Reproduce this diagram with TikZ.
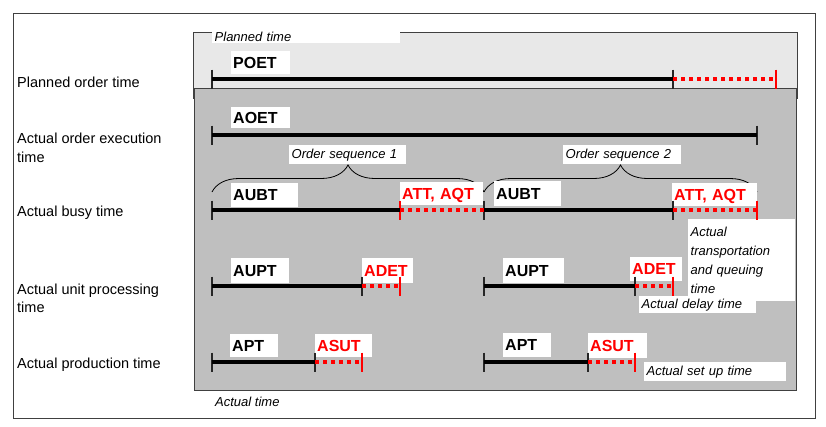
\documentclass[tikz,border=0pt]{standalone}
\usepackage{fontspec}
\setmainfont{Liberation Sans}
\usetikzlibrary{positioning,decorations.pathreplacing}

\tikzset{
  frame/.style={draw=black!75, line width=0.9pt},
  rowlabel/.style={anchor=west, align=left, inner sep=0pt, font=\fontsize{14.5}{18.5}\selectfont},
  tag/.style={fill=white, anchor=north west, inner xsep=2pt, inner ysep=0pt, align=left,
    text height=11.5pt, text depth=0pt, font=\bfseries\fontsize{16}{18}\selectfont},
  redtag/.style={tag, text=red},
  note/.style={fill=white, anchor=north west, inner xsep=2.5pt, inner ysep=0pt, align=left,
    font=\itshape\fontsize{13}{19}\selectfont},
  tk/.style={minimum height=19pt, minimum width=0pt, inner sep=0pt, outer sep=0pt,
    append after command={(\tikzlastnode.north) edge[draw=#1, line width=1.1pt] (\tikzlastnode.south)}},
  tk/.default=black!85,
  bar/.style={line width=3.6pt, black},
  delay/.style={line width=3.6pt, red, dash pattern=on 4pt off 4pt},
  obrace/.style={decorate, decoration={brace, amplitude=27pt}, line width=0.8pt}
}

\begin{document}
\begin{tikzpicture}[x=1pt,y=-1pt]
\useasboundingbox (0,0) rectangle (826,426);

% x positions on the time axis
\def\xa{212}
\def\xb{315}
\def\xc{362}
\def\xd{400}
\def\xe{484}
\def\xf{588}
\def\xg{635}
\def\xh{673}
\def\xi{757}
\def\xj{776}

% rows
\def\ya{79}
\def\yb{135}
\def\yc{210}
\def\yd{286}
\def\ye{362}

% frames
\draw[frame] (13,13) rectangle (815,418);
\filldraw[frame, fill=black!9] (193,32) rectangle (797,98);
\filldraw[frame, fill=black!25] (194.5,88) rectangle (796,390);

% row labels
\node[rowlabel] (lplan) at (17,82) {Planned order time};
\node[rowlabel] (laoet) at (17,148) {Actual order execution\\time};
\node[rowlabel] (lbusy) at (17,213) {Actual busy time};
\node[rowlabel] (lunit) at (17,298.5) {Actual unit processing\\time};
\node[rowlabel] (lprod) at (17,365) {Actual production time};

% order sequences
\coordinate (bs0) at (\xa,192);
\coordinate (bs1) at (\xe,192);
\coordinate (bs2) at (\xi,192);
\draw[obrace] (bs0) -- (bs1);
\draw[obrace] (bs1) -- (bs2);
\node[note, text width=112pt, minimum height=19pt] (nseq1) at (289,145) {Order sequence 1};
\node[note, text width=113pt, minimum height=19pt] (nseq2) at (563,145) {Order sequence 2};

% notes
\node[note, text width=183pt, minimum height=12pt] (nplan) at (212,31) {Planned time};
\node[note, text width=102pt, minimum height=82pt] (ntrans) at (688,219) {Actual\\transportation\\and queuing\\time};
\node[note, text width=112pt, minimum height=17pt] (ndelay) at (639,296) {Actual delay time};
\node[note, text width=137pt, minimum height=19pt] (nsetup) at (644,362) {Actual set up time};
\node[anchor=west, inner sep=0pt, font=\itshape\fontsize{13}{15}\selectfont] (nactual) at (215,402) {Actual time};

% tags
\node[tag, text width=55pt, minimum height=23pt] (poet) at (231,51) {POET};
\node[tag, text width=55pt, minimum height=21pt] (aoet) at (231,107) {AOET};
\node[tag, text width=63pt, minimum height=24pt] (aubt1) at (231,183) {AUBT};
\node[redtag, text width=79pt, minimum height=23pt] (att1) at (400,182) {ATT, AQT};
\node[tag, text width=63pt, minimum height=25pt] (aubt2) at (494,181) {AUBT};
\node[redtag, text width=81pt, minimum height=23pt] (att2) at (672,183) {ATT, AQT};
\node[tag, text width=54pt, minimum height=25pt] (aupt1) at (231,258) {AUPT};
\node[redtag, text width=47pt, minimum height=25pt] (adet1) at (362,258) {ADET};
\node[tag, text width=57pt, minimum height=25pt] (aupt2) at (503,258) {AUPT};
\node[redtag, text width=48pt, minimum height=24pt] (adet2) at (630,257) {ADET};
\node[tag, text width=44pt, minimum height=23pt] (apt1) at (230,334) {APT};
\node[redtag, text width=53pt, minimum height=23pt] (asut1) at (315,334) {ASUT};
\node[tag, text width=44pt, minimum height=24pt] (apt2) at (503,333) {APT};
\node[redtag, text width=55pt, minimum height=25pt] (asut2) at (588,333) {ASUT};

% planned order time
\node[tk] (pl0) at (\xa,\ya) {};
\node[tk] (pl1) at (\xh,\ya) {};
\node[tk=red] (pl2) at (\xj,\ya) {};
\draw[bar] (pl0) -- (pl1);
\draw[delay] (pl1) -- (pl2);

% actual order execution time
\node[tk] (ao0) at (\xa,\yb) {};
\node[tk] (ao1) at (\xi,\yb) {};
\draw[bar] (ao0) -- (ao1);

% actual busy time
\node[tk] (ab0) at (\xa,\yc) {};
\node[tk=red] (ab1) at (\xd,\yc) {};
\node[tk] (ab2) at (\xe,\yc) {};
\node[tk] (ab3) at (\xh,\yc) {};
\node[tk=red] (ab4) at (\xi,\yc) {};
\draw[bar] (ab0) -- (ab1);
\draw[delay] (ab1) -- (ab2);
\draw[bar] (ab2) -- (ab3);
\draw[delay] (ab3) -- (ab4);

% actual unit processing time
\node[tk] (up0) at (\xa,\yd) {};
\node[tk] (up1) at (\xc,\yd) {};
\node[tk=red] (up2) at (\xd,\yd) {};
\node[tk] (up3) at (\xe,\yd) {};
\node[tk] (up4) at (\xg,\yd) {};
\node[tk=red] (up5) at (\xh,\yd) {};
\draw[bar] (up0) -- (up1);
\draw[delay] (up1) -- (up2);
\draw[bar] (up3) -- (up4);
\draw[delay] (up4) -- (up5);

% actual production time
\node[tk] (pt0) at (\xa,\ye) {};
\node[tk] (pt1) at (\xb,\ye) {};
\node[tk=red] (pt2) at (\xc,\ye) {};
\node[tk] (pt3) at (\xe,\ye) {};
\node[tk] (pt4) at (\xf,\ye) {};
\node[tk=red] (pt5) at (\xg,\ye) {};
\draw[bar] (pt0) -- (pt1);
\draw[delay] (pt1) -- (pt2);
\draw[bar] (pt3) -- (pt4);
\draw[delay] (pt4) -- (pt5);

\end{tikzpicture}
\end{document}
